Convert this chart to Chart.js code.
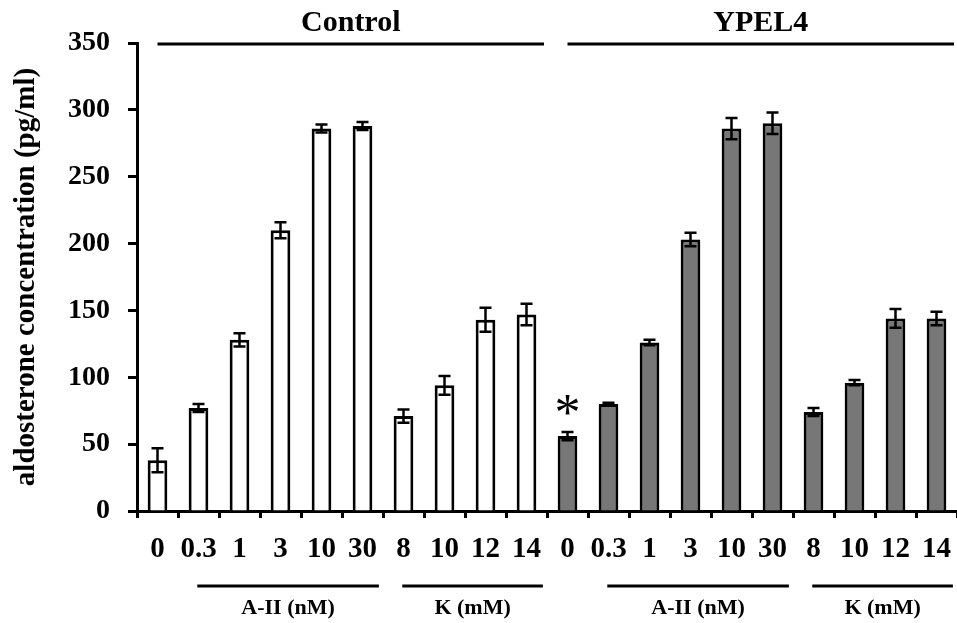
<!DOCTYPE html>
<html>
<head>
<meta charset="utf-8">
<script src="https://cdn.jsdelivr.net/npm/chart.js@4"></script>
<style>
  body { margin: 0; background: #fff; }
  #wrap { width: 957px; height: 623px; }
</style>
</head>
<body>
<div id="wrap"><canvas id="aldoChart"></canvas></div>
<script>
// doses on the x axis (same for both groups)
const doses = ['0', '0.3', '1', '3', '10', '30', '8', '10', '12', '14'];

// aldosterone (pg/ml), mean and error
const controlValues = [38, 77, 128, 210, 286, 288, 71, 94, 143, 147];
const controlErrors = [9, 3, 5, 6, 3, 3, 5, 7, 9, 8];
const ypelValues = [56, 80, 126, 203, 286, 290, 74, 96, 144, 144];
const ypelErrors = [3, 1, 2, 5, 8, 8, 3, 2, 7, 5];

// group labels, by category index
const topGroups = [['Control', 0, 9], ['YPEL4', 10, 19]];
const subGroups = [['A-II (nM)', 1, 5], ['K (mM)', 6, 9], ['A-II (nM)', 11, 15], ['K (mM)', 16, 19]];
const starred = [10];

const labels = doses.concat(doses);
const values = controlValues.concat(ypelValues);
const errors = controlErrors.concat(ypelErrors);
const fills = controlValues.map(() => '#ffffff').concat(ypelValues.map(() => '#777777'));

const serif = '"Liberation Serif", "Times New Roman", serif';

const annotate = {
  id: 'annotate',
  afterDraw(chart) {
    const ctx = chart.ctx;
    const x = chart.scales.x, y = chart.scales.y;
    const area = chart.chartArea;
    const bars = chart.getDatasetMeta(0).data;
    const w = x.getPixelForValue(1) - x.getPixelForValue(0);
    ctx.save();
    ctx.strokeStyle = '#000';
    ctx.fillStyle = '#000';

    // error bars
    ctx.lineWidth = 2.5;
    bars.forEach((bar, i) => {
      const top = y.getPixelForValue(values[i] + errors[i]);
      const bot = y.getPixelForValue(values[i] - errors[i]);
      ctx.beginPath();
      ctx.moveTo(bar.x, top); ctx.lineTo(bar.x, bot);
      ctx.moveTo(bar.x - 6, top); ctx.lineTo(bar.x + 6, top);
      ctx.moveTo(bar.x - 6, bot); ctx.lineTo(bar.x + 6, bot);
      ctx.stroke();
    });

    // significance star
    ctx.font = '52px ' + serif;
    ctx.textAlign = 'center';
    ctx.textBaseline = 'alphabetic';
    starred.forEach(i => {
      const top = y.getPixelForValue(values[i] + errors[i]);
      ctx.fillText('*', bars[i].x, top - 2);
    });

    // top group lines and titles
    ctx.textBaseline = 'middle';
    ctx.lineWidth = 3;
    ctx.font = 'bold 30px ' + serif;
    topGroups.forEach(([name, a, b]) => {
      const x0 = x.getPixelForValue(a);
      const x1 = x.getPixelForValue(b) + 0.5 * w - 3;
      const ly = area.top + 1;
      ctx.beginPath(); ctx.moveTo(x0, ly); ctx.lineTo(x1, ly); ctx.stroke();
      ctx.fillText(name, (x0 + x1) / 2, area.top - 20);
    });

    // bottom brackets
    ctx.font = 'bold 22px ' + serif;
    subGroups.forEach(([name, a, b]) => {
      const x0 = x.getPixelForValue(a) - 0.03 * w;
      const x1 = x.getPixelForValue(b) + 0.4 * w;
      const ly = area.bottom + 75;
      ctx.beginPath(); ctx.moveTo(x0, ly); ctx.lineTo(x1, ly); ctx.stroke();
      ctx.fillText(name, (x0 + x1) / 2, area.bottom + 97);
    });
    ctx.restore();
  }
};

new Chart(document.getElementById('aldoChart'), {
  type: 'bar',
  data: {
    labels: labels,
    datasets: [{
      data: values,
      backgroundColor: fills,
      borderColor: '#000',
      borderWidth: 3,
      borderSkipped: 'bottom',
      categoryPercentage: 1,
      barPercentage: 0.48
    }]
  },
  options: {
    responsive: true,
    maintainAspectRatio: false,
    animation: false,
    devicePixelRatio: 1,
    layout: { padding: { top: 43, right: 0, bottom: 0, left: 0 } },
    plugins: { legend: { display: false }, tooltip: { enabled: false } },
    scales: {
      x: {
        afterFit: s => { s.height = 112; s.paddingLeft = 0; s.paddingRight = 0; },
        grid: { drawOnChartArea: false, tickLength: 7, tickWidth: 3, tickColor: '#000' },
        border: { display: true, color: '#000', width: 3 },
        ticks: { color: '#000', padding: 14, maxRotation: 0, autoSkip: false,
                 font: { family: serif, size: 29, weight: 'bold' } }
      },
      y: {
        min: 0,
        max: 350,
        afterFit: s => { s.width = 137; },
        grid: { drawOnChartArea: false, tickLength: 9, tickWidth: 3, tickColor: '#000' },
        border: { display: true, color: '#000', width: 3 },
        ticks: { stepSize: 50, color: '#000', padding: 18,
                 font: { family: serif, size: 28, weight: 'bold' } },
        title: {
          display: true,
          text: 'aldosterone concentration (pg/ml)',
          color: '#000',
          padding: { top: 9, bottom: 0 },
          font: { family: serif, size: 29, weight: 'bold' }
        }
      }
    }
  },
  plugins: [annotate]
});
</script>
</body>
</html>
